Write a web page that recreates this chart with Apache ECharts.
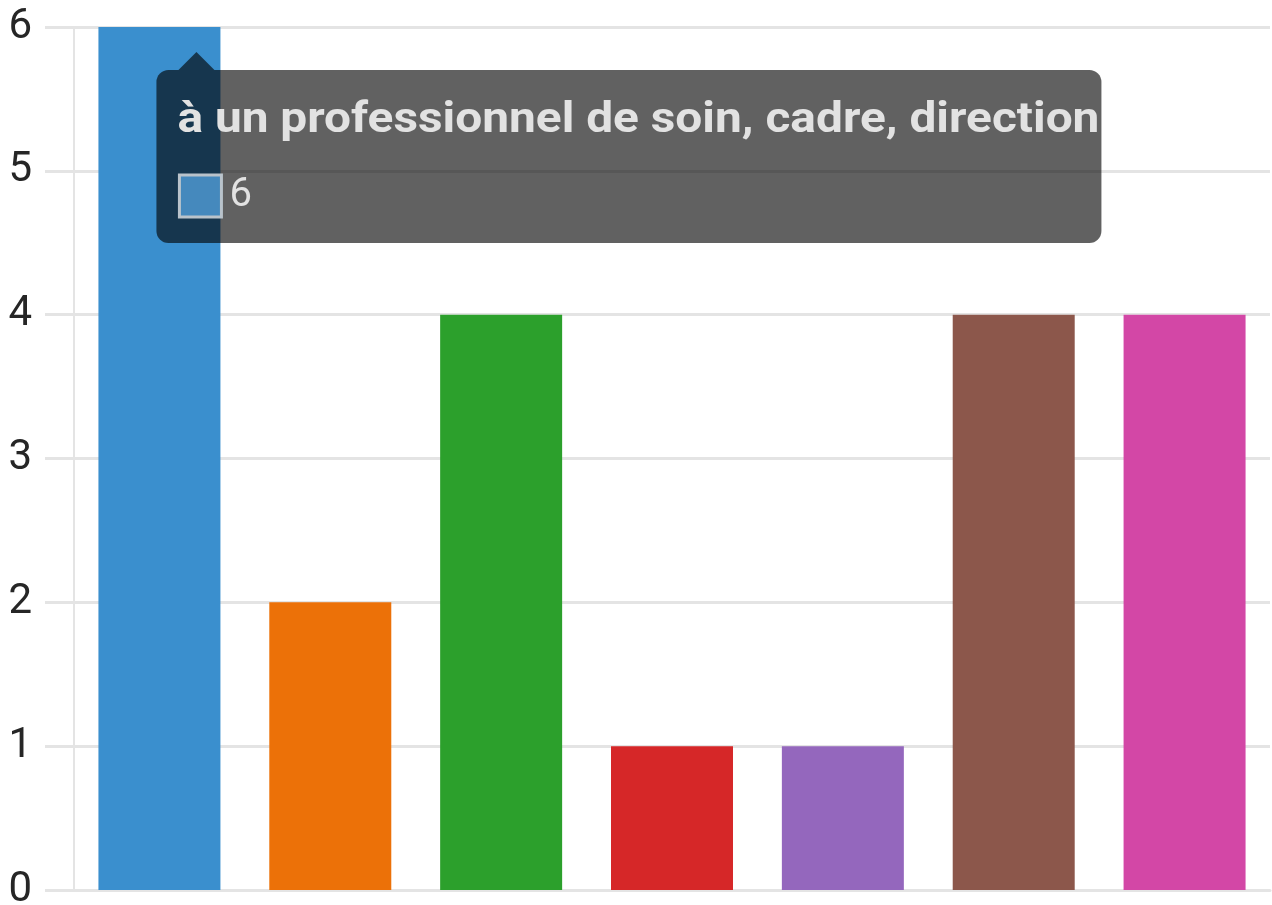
<!DOCTYPE html>
<html>
<head>
<meta charset="utf-8">
<script src="https://cdn.jsdelivr.net/npm/echarts@6/dist/echarts.min.js"></script>
<style>
html,body{margin:0;padding:0;background:#fff;overflow:hidden;}
#chart{width:1272px;height:905px;}
</style>
</head>
<body>
<div id="chart"></div>
<script>
const categories = [
  "à un professionnel de soin, cadre, direction",
  "à un collègue",
  "à un proche",
  "à un représentant du personnel",
  "à la médecine du travail",
  "à personne",
  "autre"
];
const values = [6, 2, 4, 1, 1, 4, 4];
const colors = ["#3a8fce", "#ec7108", "#2ca02c", "#d62728", "#9467bd", "#8c574b", "#d347a6"];
const yTicks = [0, 1, 2, 3, 4, 5, 6];

(function () {
const chart = echarts.init(document.getElementById('chart'), null, {renderer: 'canvas'});
const grey = '#e4e4e4';
const option = {
  animation: false,
  grid: {left: 74, right: 2, top: 27, bottom: 15, containLabel: false, outerBoundsMode: 'none'},
  xAxis: {
    type: 'category',
    data: categories,
    axisLine: {show: true, lineStyle: {color: grey, width: 3}},
    axisTick: {show: false},
    axisLabel: {show: false},
    splitLine: {show: false}
  },
  yAxis: {
    type: 'value',
    min: yTicks[0],
    max: yTicks[yTicks.length - 1],
    interval: 1,
    axisLine: {show: true, lineStyle: {color: grey, width: 2}},
    axisTick: {show: true, length: 29, lineStyle: {color: grey, width: 3}},
    axisLabel: {
      margin: 42,
      fontSize: 42,
      fontFamily: 'Roboto',
      color: '#262626'
    },
    splitLine: {show: true, lineStyle: {color: grey, width: 3}}
  },
  series: [{
    type: 'bar',
    data: values.map((v, i) => ({value: v, itemStyle: {color: colors[i]}})),
    barCategoryGap: '28.6%'
  }]
};
chart.setOption(option);

// Tooltip drawn as annotation anchored to the first bar
const barTop = chart.convertToPixel({seriesIndex: 0}, [0, values[0]]);
const apexX = barTop[0] + 37, apexY = barTop[1] + 25;
const boxX = apexX - 40, boxY = apexY + 18, boxW = 945, boxH = 173;

const ctx = document.createElement('canvas').getContext('2d');
const titleFont = 'bold 40px Roboto';
ctx.font = titleFont;
const titleW = ctx.measureText(categories[0]).width;
const titleScale = 922 / titleW;
const Z = 100;

chart.setOption({
  graphic: [
    {type: 'rect', z: Z, silent: true, shape: {x: boxX, y: boxY, width: boxW, height: boxH, r: 12},
     style: {fill: 'rgba(0,0,0,0.62)'}},
    {type: 'polygon', z: Z, silent: true, shape: {points: [[apexX, apexY], [apexX - 18, boxY], [apexX + 18, boxY]]},
     style: {fill: 'rgba(0,0,0,0.62)'}},
    {type: 'text', z: Z + 1, silent: true, x: boxX + 21, y: boxY + 51, scaleX: titleScale, scaleY: 1.08,
     style: {text: categories[0], font: titleFont, fill: '#e2e2e2', verticalAlign: 'middle', align: 'left'}},
    {type: 'rect', z: Z + 1, silent: true, shape: {x: boxX + 23, y: boxY + 105, width: 42, height: 42},
     style: {fill: '#4589bd', stroke: '#b9c3cb', lineWidth: 3}},
    {type: 'text', z: Z + 1, silent: true, x: boxX + 73, y: boxY + 126,
     style: {text: String(values[0]), font: '40px Roboto', fill: '#e2e2e2', verticalAlign: 'middle', align: 'left'}}
  ]
});
})();
</script>
</body>
</html>
